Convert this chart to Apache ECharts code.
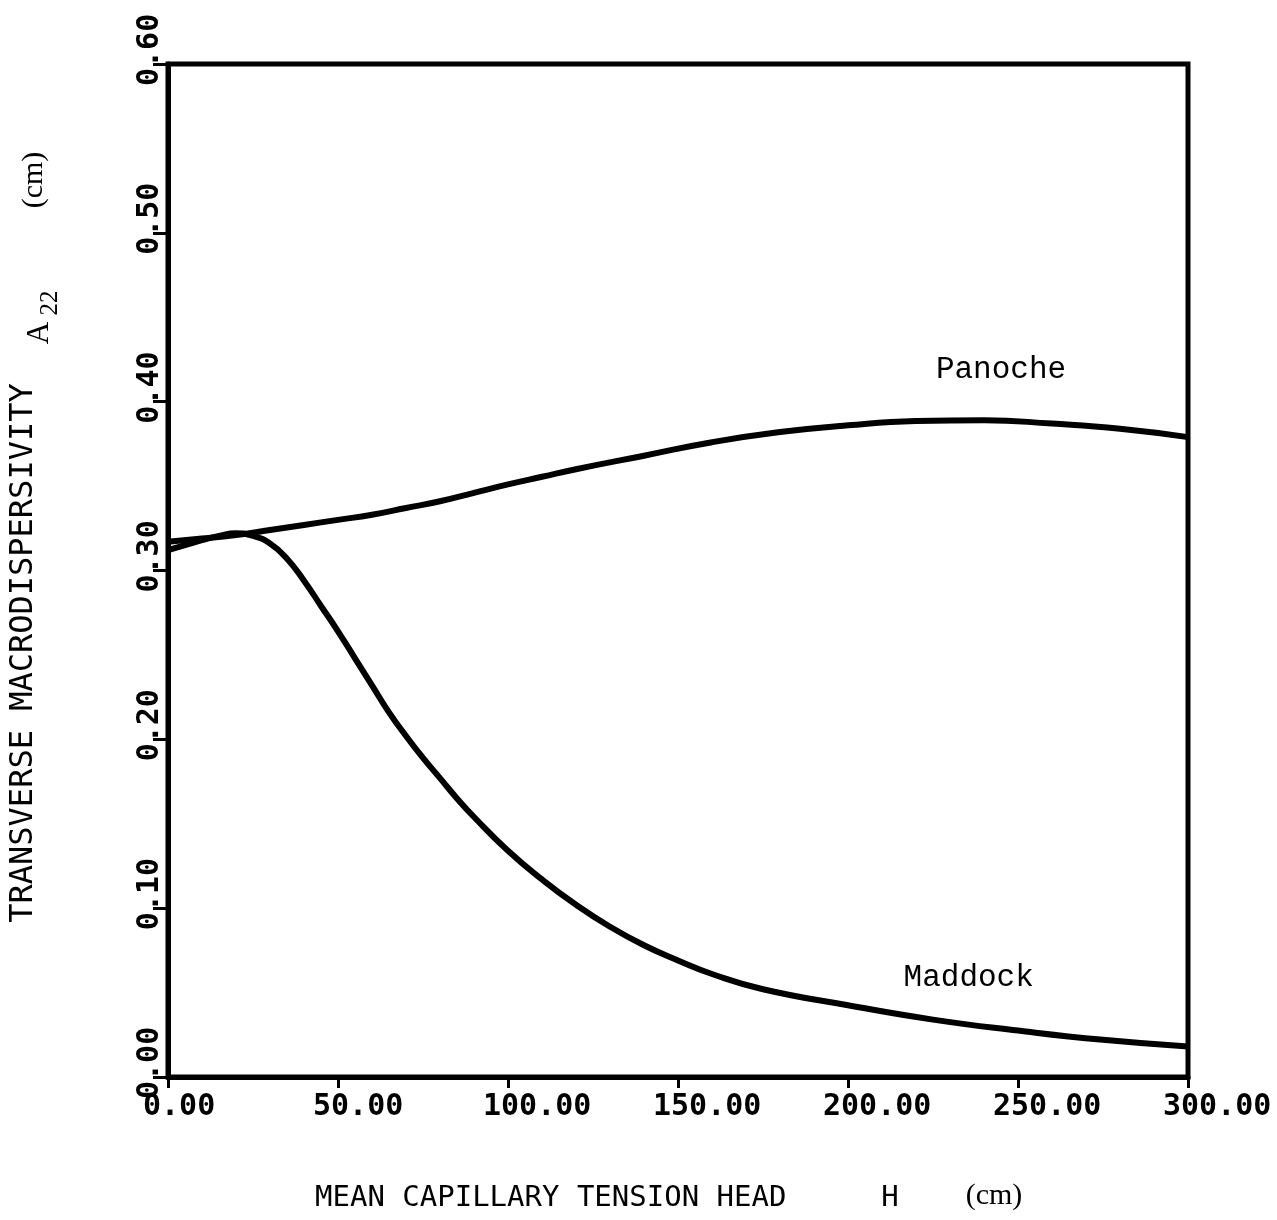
<!DOCTYPE html>
<html>
<head>
<meta charset="utf-8">
<script src="https://cdn.jsdelivr.net/npm/echarts@6/dist/echarts.min.js"></script>
<style>
html,body{margin:0;padding:0;background:#fff;}
#chart{width:1277px;height:1220px;}
</style>
</head>
<body>
<div id="chart"></div>
<script>
// ---- data ----
const panocheH = [0, 10, 20, 30, 40, 50, 60, 70, 80, 90, 100, 110, 120, 140, 160, 180, 200, 220, 240, 260, 280, 300];
const panocheA22 = [0.317, 0.319, 0.321, 0.324, 0.327, 0.330, 0.333, 0.337, 0.341, 0.346, 0.351, 0.3555, 0.360, 0.368, 0.376, 0.382, 0.386, 0.3885, 0.389, 0.387, 0.384, 0.379];

const maddockH = [0, 5, 10, 15, 20, 25, 30, 35, 40, 45, 50, 55, 60, 65, 70, 75, 80, 85, 90, 100, 110, 120, 130, 140, 150, 160, 175, 200, 225, 250, 275, 300];
const maddockA22 = [0.312, 0.315, 0.318, 0.3205, 0.322, 0.3205, 0.316, 0.307, 0.294, 0.279, 0.264, 0.248, 0.232, 0.216, 0.202, 0.189, 0.177, 0.165, 0.154, 0.134, 0.117, 0.102, 0.089, 0.078, 0.069, 0.061, 0.052, 0.0425, 0.034, 0.0275, 0.022, 0.018];

const xTicks = [0, 50, 100, 150, 200, 250, 300];
const yTicks = [0, 0.1, 0.2, 0.3, 0.4, 0.5, 0.6];

const curveLabels = [
  { name: 'Panoche', H: 245, A: 0.419 },
  { name: 'Maddock', H: 235.5, A: 0.059 }
];

const xTitle = 'MEAN CAPILLARY TENSION HEAD';
const yTitle = 'TRANSVERSE MACRODISPERSIVITY';

// ---- chart ----
const chart = echarts.init(document.getElementById('chart'), null, { renderer: 'canvas' });
const pairs = (xs, ys) => xs.map((x, i) => [x, ys[i]]);
const tickFont = { fontFamily: 'DejaVu Sans Mono', fontWeight: 'bold', fontSize: 30, color: '#000' };

const option = {
  animation: false,
  backgroundColor: '#fff',
  grid: { left: 168, right: 89, top: 64, bottom: 143, show: true, borderColor: '#000', borderWidth: 5, backgroundColor: 'transparent' },
  xAxis: {
    type: 'value', min: xTicks[0], max: xTicks[xTicks.length - 1], interval: 50,
    axisLine: { show: true, lineStyle: { color: '#000', width: 5 } },
    axisTick: { show: true, length: 11, lineStyle: { color: '#000', width: 3 } },
    splitLine: { show: false },
    axisLabel: Object.assign({ margin: 15, align: 'left', padding: [0, 0, 0, -25], formatter: v => v.toFixed(2) }, tickFont)
  },
  yAxis: {
    type: 'value', min: yTicks[0], max: yTicks[yTicks.length - 1], interval: 0.1,
    axisLine: { show: true, lineStyle: { color: '#000', width: 5 } },
    axisTick: { show: true, length: 15, lineStyle: { color: '#000', width: 3 } },
    splitLine: { show: false },
    axisLabel: Object.assign({ margin: 3, rotate: 90, align: 'left', padding: [0, 0, 0, -22], formatter: v => v.toFixed(2) }, tickFont)
  },
  series: [
    {
      name: 'Panoche', type: 'line', data: pairs(panocheH, panocheA22),
      smooth: 0.5, showSymbol: false, symbol: 'none',
      lineStyle: { color: '#000', width: 6 },
      markPoint: {
        symbol: 'circle', symbolSize: 0,
        label: { show: true, position: 'inside', formatter: curveLabels[0].name, fontFamily: 'Liberation Mono', fontSize: 31, color: '#000' },
        data: [{ coord: [curveLabels[0].H, curveLabels[0].A] }]
      }
    },
    {
      name: 'Maddock', type: 'line', data: pairs(maddockH, maddockA22),
      smooth: 0.5, showSymbol: false, symbol: 'none',
      lineStyle: { color: '#000', width: 6 },
      markPoint: {
        symbol: 'circle', symbolSize: 0,
        label: { show: true, position: 'inside', formatter: curveLabels[1].name, fontFamily: 'Liberation Mono', fontSize: 31, color: '#000' },
        data: [{ coord: [curveLabels[1].H, curveLabels[1].A] }]
      }
    }
  ],
  graphic: [
    { type: 'text', x: 315, y: 1198, style: { text: xTitle, font: '29px "DejaVu Sans Mono"', fill: '#000', textAlign: 'left', textVerticalAlign: 'middle' } },
    { type: 'text', x: 890, y: 1198, style: { text: 'H', font: '29px "DejaVu Sans Mono"', fill: '#000', textAlign: 'center', textVerticalAlign: 'middle' } },
    { type: 'text', x: 994, y: 1196, style: { text: '(cm)', font: '30px "Liberation Serif"', fill: '#000', textAlign: 'center', textVerticalAlign: 'middle' } },
    { type: 'text', x: 24, y: 653, rotation: Math.PI / 2, style: { text: yTitle, font: '32px "DejaVu Sans Mono"', fill: '#000', textAlign: 'center', textVerticalAlign: 'middle' } },
    { type: 'text', x: 40, y: 333, rotation: Math.PI / 2, style: { text: 'A', font: '31px "Liberation Serif"', fill: '#000', textAlign: 'center', textVerticalAlign: 'middle' } },
    { type: 'text', x: 50, y: 303, rotation: Math.PI / 2, style: { text: '22', font: '25px "Liberation Serif"', fill: '#000', textAlign: 'center', textVerticalAlign: 'middle' } },
    { type: 'text', x: 34, y: 180, rotation: Math.PI / 2, style: { text: '(cm)', font: '30px "Liberation Serif"', fill: '#000', textAlign: 'center', textVerticalAlign: 'middle' } }
  ]
};
chart.setOption(option);
</script>
</body>
</html>
